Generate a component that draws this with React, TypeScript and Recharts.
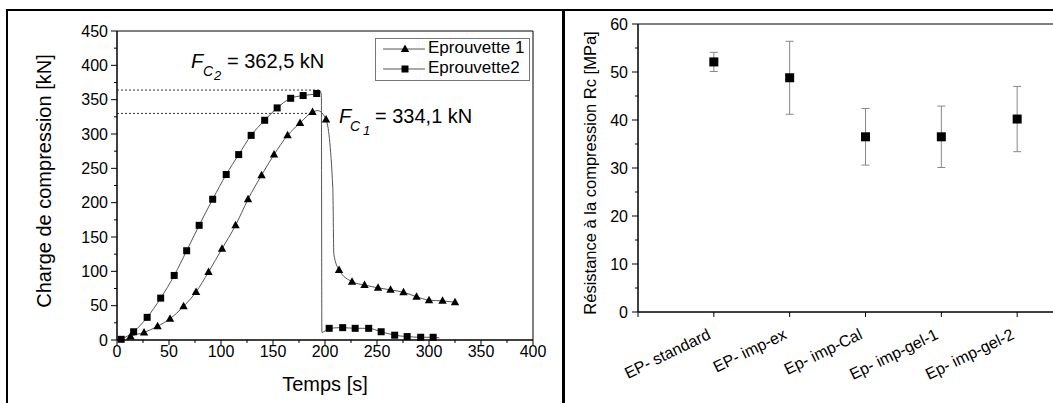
import React from 'react';
import {
  LineChart, Line, XAxis, YAxis, ReferenceArea, ReferenceLine, Legend,
  ScatterChart, Scatter, ErrorBar,
} from 'recharts';

const FONT = '"Liberation Sans", Arial, Helvetica, sans-serif';

// Left chart: charge de compression vs temps
// Eprouvette 1 (triangles), marker positions
const ep1Time = [13, 26, 39, 51, 64, 76, 88, 101, 114, 126, 139, 151, 164, 176, 188, 201, 213.5, 226, 238, 251, 263, 275.5, 288, 300, 313, 325];
const ep1Load = [5, 11, 20, 31, 49, 70, 99, 133, 167, 205, 240, 270, 298, 316, 332, 321, 102, 85, 80, 76, 73, 69.5, 63, 58, 57, 55];
// curve points without a marker (start, peak, rupture)
const ep1CurveTime = [8, 193, 207.5, 208.5];
const ep1CurveLoad = [0, 334.1, 222, 125];

// Eprouvette 2 (squares)
const ep2Time = [4, 16, 29, 42, 55, 67, 79, 92, 105, 117, 129, 142, 154, 167, 179, 192, 204, 217, 229, 242, 254, 267, 279, 292, 304];
const ep2Load = [1, 12, 33, 61, 94, 130, 167, 205, 241, 270, 298, 320, 338, 352, 356, 359, 17, 18, 17, 17, 12, 7, 5, 4, 4];
const ep2CurveTime = [195, 196.5, 197, 310];
const ep2CurveLoad = [363, 357, 11, 3];

// dotted guides to the peaks
const peak2 = { t: 195, load: 364 };
const peak1 = { t: 189, load: 330 };

const timeTicks = [0, 25, 50, 75, 100, 125, 150, 175, 200, 225, 250, 275, 300, 325, 350, 375, 400];
const loadTicks = [0, 25, 50, 75, 100, 125, 150, 175, 200, 225, 250, 275, 300, 325, 350, 375, 400, 425, 450];

// Right chart: résistance à la compression
const specimens = ['EP- standard', 'EP- imp-ex', 'Ep- imp-Cal', 'Ep- imp-gel-1', 'Ep- imp-gel-2'];
const strength = [52.1, 48.8, 36.5, 36.5, 40.2];
const strengthErr = [2.0, 7.6, 5.9, 6.4, 6.8];
const rcTicks = [0, 5, 10, 15, 20, 25, 30, 35, 40, 45, 50, 55, 60];
const catTicks = [0, 1, 2, 3, 4, 5, 6];

type Pt = { t: number; load: number; mark: boolean };

const buildCurve = (t: number[], v: number[], ct: number[], cv: number[]): Pt[] =>
  [
    ...t.map((x, i) => ({ t: x, load: v[i], mark: true })),
    ...ct.map((x, i) => ({ t: x, load: cv[i], mark: false })),
  ].sort((a, b) => a.t - b.t);

const ep1Data = buildCurve(ep1Time, ep1Load, ep1CurveTime, ep1CurveLoad);
const ep2Data = buildCurve(ep2Time, ep2Load, ep2CurveTime, ep2CurveLoad);
const rcData = specimens.map((name, i) => ({ x: i + 1, name, rc: strength[i], err: strengthErr[i] }));

const triangleDot = (p: any) => {
  const { cx, cy, payload, index } = p;
  if (!payload?.mark) return <g key={`t-${index}`} />;
  return <polygon key={`t-${index}`} points={`${cx},${cy - 4.5} ${cx + 4.2},${cy + 3} ${cx - 4.2},${cy + 3}`} fill="#000" />;
};

const squareDot = (p: any) => {
  const { cx, cy, payload, index } = p;
  if (!payload?.mark) return <g key={`s-${index}`} />;
  return <rect key={`s-${index}`} x={cx - 3.5} y={cy - 3.5} width={7} height={7} fill="#000" />;
};

const TimeTick = (p: any) => {
  const { x, y, payload } = p;
  const major = payload.value % 50 === 0;
  return (
    <g>
      <line x1={x} y1={y} x2={x} y2={y + (major ? 5 : 3)} stroke="#000" />
      {major && (
        <text x={x} y={y + 17} textAnchor="middle" fontSize={16} fontFamily={FONT} fill="#000">
          {payload.value}
        </text>
      )}
    </g>
  );
};

const LoadTick = (p: any) => {
  const { x, y, payload } = p;
  const major = payload.value % 50 === 0;
  return (
    <g>
      <line x1={x - (major ? 6 : 3)} y1={y} x2={x} y2={y} stroke="#000" />
      {major && (
        <text x={x - 9} y={y + 5.5} textAnchor="end" fontSize={16} fontFamily={FONT} fill="#000">
          {payload.value}
        </text>
      )}
    </g>
  );
};

const RcTick = (p: any) => {
  const { x, y, payload } = p;
  const major = payload.value % 10 === 0;
  return (
    <g>
      <line x1={x - (major ? 6 : 3)} y1={y} x2={x} y2={y} stroke="#000" />
      {major && (
        <text x={x - 10} y={y + 5.5} textAnchor="end" fontSize={16} fontFamily={FONT} fill="#000">
          {payload.value}
        </text>
      )}
    </g>
  );
};

const CatTick = (p: any) => {
  const { x, y, payload } = p;
  const label = specimens[payload.value - 1];
  const tx = x - 2;
  const ty = y + 26;
  return (
    <g>
      <line x1={x} y1={y} x2={x} y2={y + 5} stroke="#000" />
      {label && (
        <text x={tx} y={ty} textAnchor="end" fontSize={16} fontFamily={FONT} fill="#000"
          transform={`rotate(-26, ${tx}, ${ty})`}>
          {label}
        </text>
      )}
    </g>
  );
};

const LegendBox = () => (
  <div style={{
    width: 155, height: 43, boxSizing: 'border-box', border: '1px solid #777',
    background: '#fff', fontFamily: FONT, fontSize: 17, color: '#000', position: 'relative',
  }}>
    {[{ name: 'Eprouvette 1', tri: true }, { name: 'Eprouvette2', tri: false }].map((s, i) => (
      <div key={s.name} style={{ position: 'absolute', left: 0, top: 1 + i * 20, height: 20, width: 153 }}>
        <svg width={50} height={20} style={{ position: 'absolute', left: 0, top: 0 }}>
          <line x1={7} y1={9} x2={49} y2={9} stroke="#555" />
          {s.tri
            ? <polygon points="29,4.5 33.2,12 24.8,12" fill="#000" />
            : <rect x={25.5} y={5.5} width={7} height={7} fill="#000" />}
        </svg>
        <span style={{ position: 'absolute', left: 52, top: -2, whiteSpace: 'nowrap', lineHeight: '20px' }}>{s.name}</span>
      </div>
    ))}
  </div>
);

const LoadChart = () => (
  <LineChart width={560} height={403} margin={{ top: 31, right: 27, left: 0, bottom: 0 }}>
    <XAxis type="number" dataKey="t" domain={[0, 400]} ticks={timeTicks} interval={0}
      height={63} tickSize={0} tickMargin={0} tickLine={false} tick={TimeTick} stroke="#000" />
    <YAxis type="number" dataKey="load" domain={[0, 450]} ticks={loadTicks} interval={0}
      width={117} tickSize={0} tickMargin={0} tickLine={false} tick={LoadTick} stroke="#000" />
    <ReferenceArea x1={0} x2={400} y1={0} y2={450} fill="none" stroke="#000" strokeWidth={1} />
    <ReferenceLine segment={[{ x: 0, y: peak2.load }, { x: peak2.t, y: peak2.load }]}
      stroke="#333" strokeDasharray="2 2" />
    <ReferenceLine segment={[{ x: 0, y: peak1.load }, { x: peak1.t, y: peak1.load }]}
      stroke="#333" strokeDasharray="2 2" />
    <Line data={ep1Data} dataKey="load" name="Eprouvette 1" type="monotone" stroke="#555"
      strokeWidth={1} dot={triangleDot} activeDot={false} isAnimationActive={false} />
    <Line data={ep2Data} dataKey="load" name="Eprouvette2" type="monotone" stroke="#555"
      strokeWidth={1} dot={squareDot} activeDot={false} isAnimationActive={false} />
    <Legend layout="vertical" align="center" verticalAlign="middle" content={() => <LegendBox />}
      wrapperStyle={{ top: 38, left: 375, width: 155, height: 43 }} />
  </LineChart>
);

const StrengthChart = () => (
  <ScatterChart width={560} height={403} margin={{ top: 24, right: 30, left: 0, bottom: 0 }}>
    <XAxis type="number" dataKey="x" domain={[0, 6]} ticks={catTicks} interval={0}
      height={91} tickSize={0} tickMargin={0} tickLine={false} tick={CatTick} stroke="#000" />
    <YAxis type="number" dataKey="rc" domain={[0, 60]} ticks={rcTicks} interval={0}
      width={75} tickSize={0} tickMargin={0} tickLine={false} tick={RcTick} stroke="#000" />
    <ReferenceArea x1={0} x2={6} y1={0} y2={60} fill="none" stroke="#000" strokeWidth={1} />
    <Scatter data={rcData} dataKey="rc" isAnimationActive={false}
      shape={(p: any) => <rect x={p.cx - 4.5} y={p.cy - 4.5} width={9} height={9} fill="#000" />}>
      <ErrorBar dataKey="err" direction="y" width={4} stroke="#888" strokeWidth={1} />
    </Scatter>
  </ScatterChart>
);

export default function App() {
  return (
    <div style={{ position: 'absolute', left: 0, top: 0, width: 1053, height: 403, overflow: 'hidden', background: '#fff' }}>
      <div style={{ position: 'absolute', left: 0, top: 0 }}>
        <LoadChart />
      </div>
      <div style={{ position: 'absolute', left: 563, top: 0 }}>
        <StrengthChart />
      </div>

      {/* panel frames */}
      <div style={{ position: 'absolute', left: 6, top: 9, width: 2, height: 394, background: '#000' }} />
      <div style={{ position: 'absolute', left: 6, top: 9, width: 1047, height: 2, background: '#000' }} />
      <div style={{ position: 'absolute', left: 562, top: 9, width: 3, height: 394, background: '#000' }} />

      {/* titles and annotations */}
      <svg width={1053} height={403} style={{ position: 'absolute', left: 0, top: 0, pointerEvents: 'none' }}
        fontFamily={FONT} fill="#000">
        <text x={51} y={181} fontSize={20} textAnchor="middle" transform="rotate(-90, 51, 181)">
          Charge de compression [kN]
        </text>
        <text x={325} y={391} fontSize={20} textAnchor="middle">Temps [s]</text>

        <text x={191} y={68} fontSize={20} fontStyle="italic">F</text>
        <text x={203} y={76} fontSize={14} fontStyle="italic">C</text>
        <text x={214} y={80} fontSize={13} fontStyle="italic">2</text>
        <text x={227} y={68} fontSize={20}>= 362,5 kN</text>

        <text x={339} y={123} fontSize={20} fontStyle="italic">F</text>
        <text x={350} y={131} fontSize={14} fontStyle="italic">C</text>
        <text x={363} y={135} fontSize={13} fontStyle="italic">1</text>
        <text x={375} y={123} fontSize={20}>= 334,1 kN</text>

        <text x={596} y={173} fontSize={16.5} textAnchor="middle" transform="rotate(-90, 596, 173)">
          Résistance à la compression Rc [MPa]
        </text>
      </svg>
    </div>
  );
}
